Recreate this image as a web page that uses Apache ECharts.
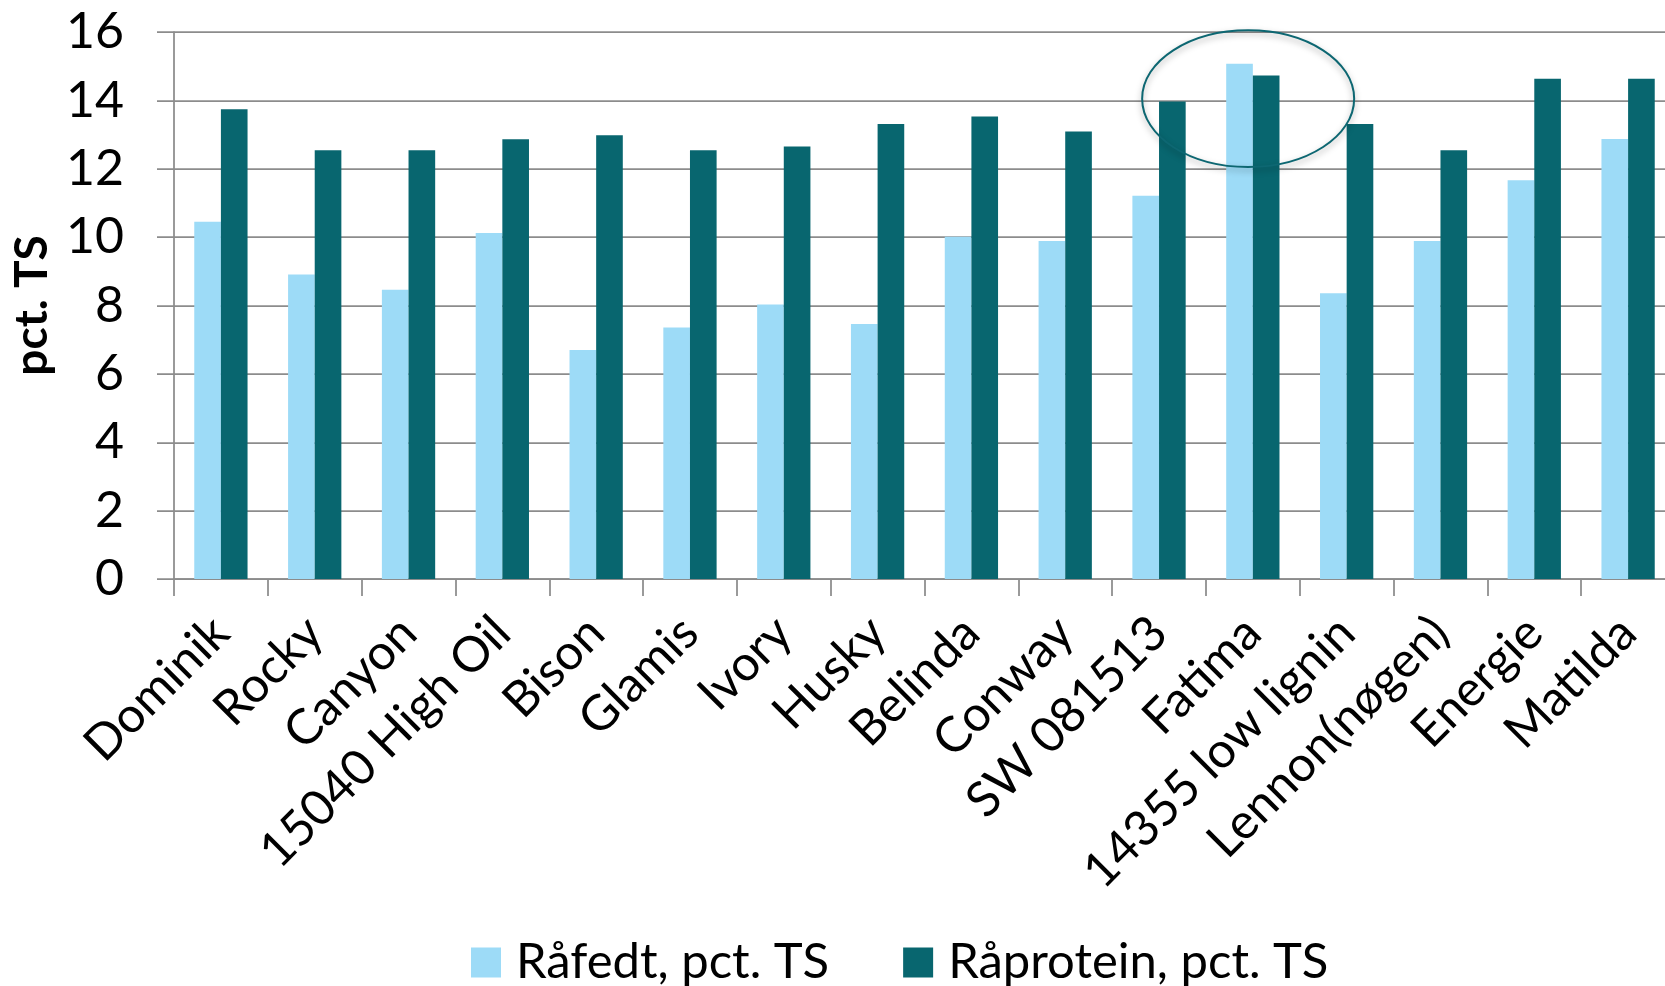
<!DOCTYPE html>
<html><head><meta charset="utf-8">
<script src="https://cdn.jsdelivr.net/npm/echarts@6/dist/echarts.min.js"></script>
<style>html,body{margin:0;padding:0;background:#fff;overflow:hidden;width:1665px;height:986px}#c{width:1675px;height:986px}</style>
</head><body><div id="c"></div>
<script>
const categories = ['Dominik','Rocky','Canyon','15040 High Oil','Bison','Glamis','Ivory','Husky','Belinda','Conway','SW 081513','Fatima','14355 low lignin','Lennon(nøgen)','Energie','Matilda'];
const rafedt = [10.45, 8.91, 8.46, 10.12, 6.70, 7.36, 8.03, 7.46, 10.01, 9.89, 11.21, 15.07, 8.36, 9.89, 11.66, 12.87];
const raprotein = [13.74, 12.54, 12.54, 12.86, 12.98, 12.54, 12.65, 13.31, 13.53, 13.09, 13.97, 14.73, 13.31, 12.54, 14.63, 14.63];
const seriesNames = ['Råfedt, pct. TS', 'Råprotein, pct. TS'];
const yMin = 0, yMax = 16, yStep = 2;
const highlightCategory = 'Fatima';

const FONT = 'Lato';
const chart = echarts.init(document.getElementById('c'), null, {renderer: 'canvas'});
const option = {
  backgroundColor: '#ffffff',
  animation: false,
  textStyle: {fontFamily: FONT, color: '#000'},
  grid: {left: 174, top: 32, right: 0, bottom: 407, containLabel: false},
  legend: {
    bottom: -6, left: 466,
    itemWidth: 30, itemHeight: 30, itemGap: 74,
    icon: 'rect',
    textStyle: {fontFamily: FONT, fontSize: 49, color: '#000', padding: [0, 0, 0, 10]},
    data: seriesNames
  },
  xAxis: {
    type: 'category',
    data: categories,
    axisLine: {lineStyle: {color: '#8c8c8c', width: 1.75}},
    axisTick: {show: true, length: 17, lineStyle: {color: '#8c8c8c', width: 1.75}, alignWithLabel: false},
    axisLabel: {rotate: 45, fontSize: 49, color: '#000', margin: 46, interval: 0, fontFamily: FONT}
  },
  yAxis: {
    type: 'value',
    min: yMin, max: yMax, interval: yStep,
    name: 'pct. TS', nameLocation: 'middle', nameRotate: 90, nameGap: 112,
    nameTextStyle: {fontFamily: FONT, fontWeight: 'bold', fontSize: 46, color: '#000'},
    axisLine: {show: true, lineStyle: {color: '#8c8c8c', width: 1.75}},
    axisTick: {show: true, length: 17, lineStyle: {color: '#8c8c8c', width: 1.75}},
    splitLine: {show: true, lineStyle: {color: '#8c8c8c', width: 1.75}},
    axisLabel: {fontSize: 50, color: '#000', margin: 50, fontFamily: FONT}
  },
  series: [
    {name: seriesNames[0], type: 'bar', data: rafedt, barWidth: '28.4%', barGap: '0%', itemStyle: {color: '#9ddbf7'}},
    {name: seriesNames[1], type: 'bar', data: raprotein, barWidth: '28.4%', barGap: '0%', itemStyle: {color: '#08666f'}}
  ]
};
chart.setOption(option);

// Annotation ellipse around the highlighted category
const idx = categories.indexOf(highlightCategory);
const c = chart.convertToPixel({xAxisIndex: 0, yAxisIndex: 0}, [idx, 14.05]);
const c2 = chart.convertToPixel({xAxisIndex: 0, yAxisIndex: 0}, [idx + 1, 12.05]);
const catW = c2[0] - c[0];
const rx = catW * 1.13;
const ry = c2[1] - c[1];
chart.setOption({
  graphic: [{
    type: 'ellipse',
    shape: {cx: c[0] - catW * 0.05, cy: c[1], rx: rx, ry: ry},
    style: {fill: 'none', stroke: '#0d6772', lineWidth: 2, shadowBlur: 6, shadowColor: 'rgba(0,0,0,0.35)', shadowOffsetY: 3},
    z: 100
  }]
});
</script>
</body></html>
